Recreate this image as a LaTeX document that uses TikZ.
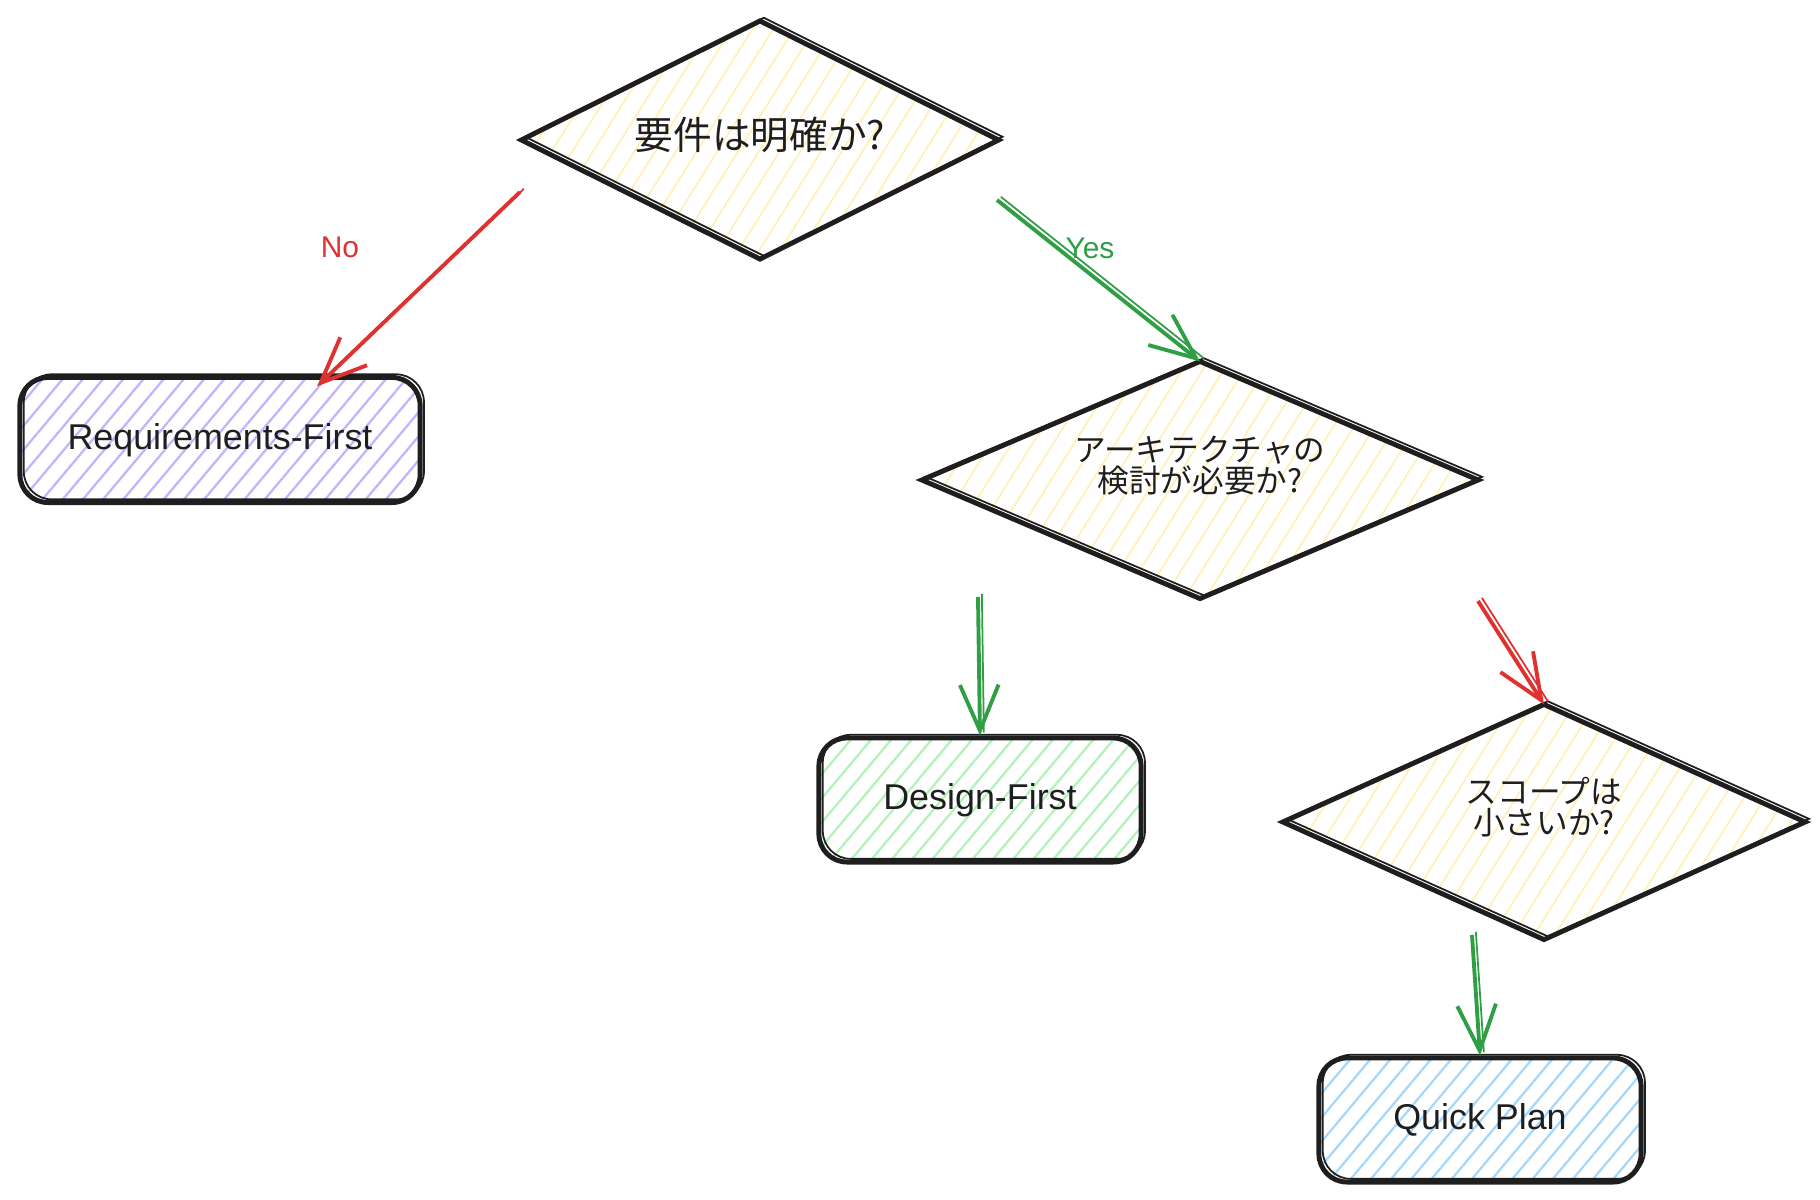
\documentclass[tikz,border=0pt]{standalone}
\usepackage{fontspec}
\setmainfont{Liberation Sans}
\newfontfamily\jpfont{Noto Sans CJK JP}
\usepackage{xcolor}
\usetikzlibrary{positioning, shapes.geometric, arrows.meta, patterns.meta}
\definecolor{ink}{HTML}{1E1E1E}
\definecolor{noRed}{HTML}{E03131}
\definecolor{yesGreen}{HTML}{2F9E44}
\definecolor{hachYellow}{HTML}{FFF0B0}
\definecolor{hachViolet}{HTML}{C4B3FF}
\definecolor{hachGreen}{HTML}{B2F2BB}
\definecolor{hachBlue}{HTML}{A5D8FF}

\begin{document}
\begin{tikzpicture}[x=0.01cm, y=-0.01cm,
    sketch/.style={postaction={draw, -, line width=0.5pt, transform canvas={xshift=1.1pt, yshift=0.9pt}}},
    decision/.style={diamond, draw=ink, line width=1.4pt, shape aspect=2, inner sep=0pt, outer sep=0pt, align=center, text=ink, text depth=9pt, font=\jpfont\fontsize{9}{8.9}\selectfont, pattern={Lines[angle=58, distance=5pt, line width=0.45pt]}, pattern color=hachYellow, sketch},
    plan/.style={rectangle, rounded corners=0.28cm, draw=ink, line width=1.4pt, minimum width=3.22cm, minimum height=1.24cm, text=ink, font=\fontsize{10.2}{12}\selectfont, pattern={Lines[angle=50, distance=4.4pt, line width=0.65pt]}, sketch},
    arrow/.style={-{Straight Barb[length=13pt, width=11pt, line width=1.1pt]}, line width=1.1pt, sketch},
    lbl/.style={font=\fontsize{8.5}{10}\selectfont}
]
    \useasboundingbox (0,0) rectangle (1820,1200);

    % Decisions
    \node[decision, minimum width=4.77cm, minimum height=2.38cm, text depth=4pt, font=\jpfont\fontsize{11}{13}\selectfont] (clear) at (760,140) {要件は明確か?};
    \node[decision, minimum width=5.56cm, minimum height=2.37cm] (arch) at (1200,480) {アーキテクチャの\\検討が必要か?};
    \node[decision, minimum width=5.22cm, minimum height=2.35cm] (scope) at (1544,822) {スコープは\\小さいか?};

    % Outcomes
    \node[plan, minimum width=4cm, minimum height=1.25cm, pattern color=hachViolet] (reqfirst) at (220,440) {Requirements-First};
    \node[plan, pattern color=hachGreen] (designfirst) at (980,800) {Design-First};
    \node[plan, pattern color=hachBlue] (quickplan) at (1480,1120) {Quick Plan};

    % Arrow starts
    \coordinate (noStart) at (520,192);
    \coordinate (yesStart) at (997,200);
    \coordinate (archYes) at (978,597);
    \coordinate (archNo) at (1478,601);
    \coordinate (scopeYes) at (1472,935);

    \draw[arrow, noRed] (noStart) -- ([xshift=0.97cm, yshift=-0.1cm]reqfirst.north);
    \draw[arrow, yesGreen] (yesStart) -- (arch.north);
    \draw[arrow, yesGreen] (archYes) -- (designfirst.north);
    \draw[arrow, noRed] (archNo) -- (scope.north);
    \draw[arrow, yesGreen] (scopeYes) -- (quickplan.north);

    % Labels
    \node[lbl, text=noRed] (nolabel) at (340,247) {No};
    \node[lbl, text=yesGreen] (yeslabel) at (1090,248) {Yes};

\end{tikzpicture}
\end{document}
